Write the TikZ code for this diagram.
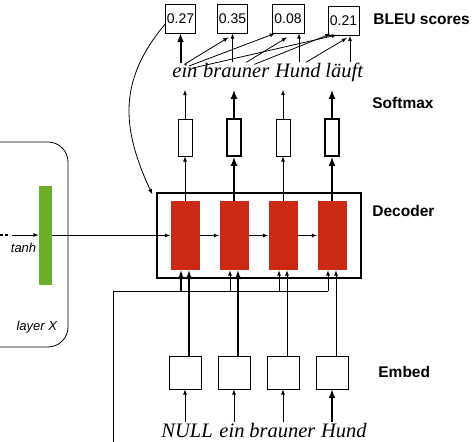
\documentclass[tikz,border=0pt]{standalone}
\usepackage{fontspec}
\setmainfont{Liberation Serif}
\setsansfont{Liberation Sans}
\usetikzlibrary{calc,positioning}
\definecolor{cellred}{HTML}{CC2914}
\definecolor{tanhgreen}{HTML}{6AAE2B}

\begin{document}
\begin{tikzpicture}[%
    x=1pt, y=1pt,
    on grid,
    node distance=49pt and 49pt,
    line width=0.8pt,
    fat/.style={line width=2pt},
    slim/.style={line width=0.8pt},
    cell/.style={%
        fill=cellred,
        minimum width=29pt,
        minimum height=69pt,
        inner sep=0pt,
    },
    smax/.style={draw, minimum width=14pt, minimum height=37pt, inner sep=0pt},
    emb/.style={draw, minimum width=32pt, minimum height=33pt, inner sep=0pt},
    score/.style={%
        draw,
        minimum width=30pt,
        minimum height=29pt,
        inner sep=0pt,
        font=\fontsize{14}{16}\selectfont\sffamily,
    },
    word/.style={on grid=false, anchor=base west, inner sep=0pt, font=\fontsize{20.5}{24}\selectfont\itshape},
    lbl/.style={anchor=west, inner sep=0pt, font=\fontsize{15.5}{18}\selectfont\sffamily\bfseries},
    note/.style={inner sep=0pt, font=\fontsize{13}{15}\selectfont\sffamily\itshape},
]
\useasboundingbox (0,0) rectangle (472,442);

    % encoder layer
    \node[draw, rounded corners=20pt, minimum width=98pt, minimum height=205pt] (layer) at (19,197.5) {};
    \node[note, anchor=south east] (layerlbl) at ($(layer.south east)+(-11,14)$) {layer X};
    \node[fill=tanhgreen, minimum width=13pt, minimum height=99pt, inner sep=0pt] (g) at (45.5,206.5) {};
    \coordinate (dotsL) at (-5,207);
    \coordinate (dotsR) at (9,207);
    \coordinate (in) at (12,207);
    \draw[line width=2.5pt, dash pattern=on 3pt off 2pt] (dotsL) -- (dotsR);
    \draw[-latex] (in) -- (g.west |- in);
    \node[note, anchor=north east] (tanhlbl) at ($(g.west)+(-2,-7)$) {tanh};

    % decoder
    \node[draw, line width=1.5pt, minimum width=204pt, minimum height=85pt, inner sep=0pt] (dec) at (259,206.5) {};
    \node[cell] (r1) at (185,206.5) {};
    \draw[-latex] (g) -- (r1);

    \coordinate (ctx) at (113,-2);
    \coordinate (bus) at (113,151);

    \foreach \x/\wc/\we/\wi/\ws in {1/fat/fat/slim/slim, 2/slim/fat/slim/fat, 3/slim/slim/slim/slim, 4/slim/slim/fat/fat}{%
        \pgfmathtruncatemacro\prev{\x-1};
        \ifnum \x > 1
            \node[cell, right=of r\prev] (r\x) {};
            \draw[-latex] (r\prev) -- (r\x);
        \fi
        \node[smax, above=98pt of r\x, \ws] (s\x) {};
        \node[emb, below=137pt of r\x] (e\x) {};
        \coordinate[above=47.5pt of s\x] (o\x);
        \coordinate[below=50pt of e\x] (i\x);
        \coordinate (c\x) at ($(r\x.south)+(-4,0)$);
        \draw[-latex, \ws] (r\x) -- (s\x);
        \draw[-latex, \ws] (s\x) -- (o\x);
        \draw[-latex, \wi] (i\x) -- (e\x);
        \draw[-latex, \we] ($(e\x.north)+(4,0)$) -- ($(r\x.south)+(4,0)$);
        \draw[-latex, \wc] (c\x |- bus) -- (c\x);
    }
    \draw (ctx) |- (c4 |- bus);

    % words
    \node[word] (w1) at (172,364) {ein};
    \node[word, base right=5pt of w1.base east] (w2) {brauner};
    \node[word, base right=5pt of w2.base east] (w3) {Hund};
    \node[word, base right=4pt of w3.base east] (w4) {läuft};

    \node[word] (n1) at (161,4) {NULL};
    \node[word, base right=6pt of n1.base east] (n2) {ein};
    \node[word, base right=4pt of n2.base east] (n3) {brauner};
    \node[word, base right=5pt of n3.base east] (n4) {Hund};

    % scores
    \node[score] (b1) at (180.5,423.5) {0.27};
    \node[score] (b2) at (232.5,423.5) {0.35};
    \node[score, minimum width=32pt] (b3) at (288,423.5) {0.08};
    \node[score, minimum width=31pt] (b4) at (343.5,421) {0.21};

    \draw[-latex, fat] ($(b1.south |- w1.north)+(0,1)$) -- (b1.south);
    \draw[-latex] ($(b2.south |- w2.north)+(0,1)$) -- (b2.south);
    \draw[-latex] ($(b3.south |- w3.north)+(11,1)$) -- ($(b3.south)+(11,0)$);
    \draw[-latex] ($(b4.south |- w4.north)+(6.5,1)$) -- ($(b4.south)+(6.5,0)$);
    \draw[-latex] ($(w1.north)+(0,0)$) -- ($(b2.south)+(-4,-4)$);
    \draw[-latex] ($(w1.north)+(4,-2)$) -- ($(b3.south)+(-13,0)$);
    \draw[-latex] ($(w1.north)+(8,-4)$) -- ($(b4.south)+(-6.5,1)$);
    \draw[-latex] ($(w2.north)+(10,1)$) -- ($(b3.south)+(-1,-4)$);
    \draw[-latex] ($(w2.north)+(18,-1)$) -- ($(b4.south)+(-13,2)$);
    \draw[-latex] ($(w3.north)+(8,1)$) -- ($(b4.south)+(3.5,-2)$);

    \draw[-latex] (b1.200) to[out=230, in=115, looseness=1.1] ($(dec.north west)+(-4,-2)$);

    % labels
    \node[lbl] (bleulbl) at (373,423) {BLEU scores};
    \node[lbl] (smaxlbl) at (372,339) {Softmax};
    \node[lbl] (declbl) at (372,231) {Decoder};
    \node[lbl] (emblbl) at (378,70) {Embed};
\end{tikzpicture}
\end{document}
